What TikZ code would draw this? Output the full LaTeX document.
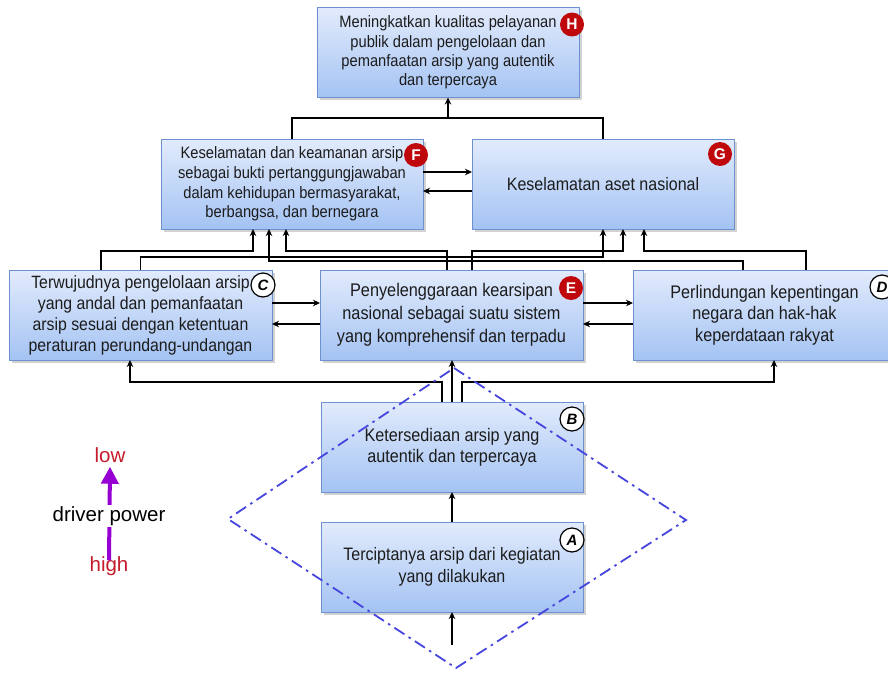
\documentclass[tikz,border=0pt]{standalone}
\usepackage{fontspec}
\setmainfont{Liberation Sans}
\newfontfamily\boxfont[FakeStretch=0.89]{Liberation Sans}
\usetikzlibrary{arrows.meta,shadows}

\definecolor{boxtop}{RGB}{226,235,252}
\definecolor{boxbot}{RGB}{164,195,243}
\definecolor{boxline}{RGB}{108,145,206}
\definecolor{badgered}{RGB}{190,8,12}
\definecolor{diamondblue}{RGB}{70,70,222}
\definecolor{legendred}{RGB}{196,28,42}
\definecolor{legendpurple}{RGB}{150,0,210}
\definecolor{textgray}{RGB}{28,28,28}

\begin{document}
\begin{tikzpicture}[x=1pt,y=-1pt,
  goalbox/.style={draw=boxline, line width=1pt, top color=boxtop, bottom color=boxbot,
    minimum width=262pt, minimum height=90pt, inner sep=0pt, outer sep=0pt,
    align=center, text=textgray,
    drop shadow={shadow xshift=2.5pt, shadow yshift=-2.5pt, opacity=0.35}},
  txt/.style 2 args={font=\boxfont\fontsize{#1}{#2}\selectfont},
  redbadge/.style={circle, fill=badgered, text=white, inner sep=0pt, minimum size=24pt,
    font=\bfseries\fontsize{15.5pt}{15.5pt}\selectfont},
  whitebadge/.style={circle, draw=black, line width=1.2pt, fill=white, inner sep=0pt,
    minimum size=24pt, font=\bfseries\itshape\fontsize{15pt}{15pt}\selectfont},
  link/.style={line width=1.2pt, black},
  arr/.style={link, -{Stealth[length=7pt,width=6.5pt]}},
  diamondline/.style={diamondblue, line width=1.8pt, dash pattern=on 12pt off 5pt on 2.5pt off 5pt},
  legendtxt/.style={font=\fontsize{20.5pt}{21pt}\selectfont, inner sep=1pt}
]
\useasboundingbox (0,0) rectangle (888,672);
\fill[white] (0,0) rectangle (888,672);
\clip (0,0) rectangle (888,672);

% goal hierarchy boxes
\node[goalbox, txt={16.5pt}{19.3pt}] (H) at (448,52.5)
  {Meningkatkan kualitas pelayanan\\publik dalam pengelolaan dan\\pemanfaatan arsip yang autentik\\dan terpercaya};
\node[goalbox, txt={16.5pt}{19.7pt}] (F) at (292,184)
  {Keselamatan dan keamanan arsip\\sebagai bukti pertanggungjawaban\\dalam kehidupan bermasyarakat,\\berbangsa, dan bernegara};
\node[goalbox, txt={18pt}{21pt}] (G) at (603,184) {Keselamatan aset nasional};
\node[goalbox, txt={17.8pt}{21pt}, minimum width=263pt] (C) at (140.5,315)
  {Terwujudnya pengelolaan arsip\\yang andal dan pemanfaatan\\arsip sesuai dengan ketentuan\\peraturan perundang-undangan};
\node[goalbox, txt={18.3pt}{23pt}, minimum width=263pt] (E) at (451.5,315)
  {Penyelenggaraan kearsipan\\nasional sebagai suatu sistem\\yang komprehensif dan terpadu};
\node[goalbox, txt={18.2pt}{21.5pt}, minimum width=263pt] (D) at (764.5,315)
  {Perlindungan kepentingan\\negara dan hak-hak\\keperdataan rakyat};
\node[goalbox, txt={18.2pt}{21pt}] (B) at (452,447)
  {Ketersediaan arsip yang\\autentik dan terpercaya};
\node[goalbox, txt={18pt}{22pt}] (A) at (452,567)
  {Terciptanya arsip dari kegiatan\\yang dilakukan};

% F and G feed H
\draw[link] (F.north) -- ++(0,-21) coordinate (fgjoin) -| (G.north);
\coordinate (hjoin) at (H.south |- fgjoin);
\draw[arr] (hjoin) -- (H.south);

% mutual links within rows
\draw[arr] ([yshift=12pt]F.east) -- ([yshift=12pt]G.west);
\draw[arr] ([yshift=-7pt]G.west) -- ([yshift=-7pt]F.east);
\draw[arr] ([yshift=12pt]C.east) -- ([yshift=12pt]E.west);
\draw[arr] ([yshift=-9pt]E.west) -- ([yshift=-9pt]C.east);
\draw[arr] ([yshift=12pt]E.east) -- ([yshift=12pt]D.west);
\draw[arr] ([yshift=-9pt]D.west) -- ([yshift=-9pt]E.east);

% middle row feeds F and G
\draw[arr] ([xshift=-39.5pt]C.north) -- ++(0,-19) -| ([xshift=-39pt]F.south);
\draw[arr] (C.north) -- ++(0,-13) -| (G.south);
\draw[arr] ([xshift=-4.5pt]E.north) -- ++(0,-19) -| ([xshift=-6pt]F.south);
\draw[arr] ([xshift=20.5pt]E.north) -- ++(0,-19) -| ([xshift=20pt]G.south);
\draw[arr] ([xshift=-21.5pt]D.north) -- ++(0,-9) -| ([xshift=-23pt]F.south);
\draw[arr] ([xshift=41.5pt]D.north) -- ++(0,-19) -| ([xshift=41pt]G.south);

% B feeds the middle row
\draw[arr] ([xshift=-10pt]B.north) -- ++(0,-20) -| ([xshift=-10.5pt]C.south);
\draw[arr] (B.north) -- (B.north |- E.south);
\draw[arr] ([xshift=10pt]B.north) -- ++(0,-20) -| ([xshift=9.5pt]D.south);

% A feeds B, input into A
\draw[arr] (A.north) -- (B.south);
\coordinate (ain) at (452,645);
\draw[arr] (ain) -- (A.south);

% dash-dotted diamond around the base
\draw[diamondline] (454,368) -- (686,520) -- (456,668) -- (228,519) -- cycle;

% badges
\node[redbadge] (bH) at ([xshift=-7pt,yshift=-17pt]H.north east) {H};
\node[redbadge] (bF) at ([xshift=-7pt,yshift=-16pt]F.north east) {F};
\node[redbadge] (bG) at ([xshift=-14pt,yshift=-15pt]G.north east) {G};
\node[redbadge] (bE) at ([xshift=-12pt,yshift=-18pt]E.north east) {E};
\node[whitebadge] (bC) at ([xshift=-9pt,yshift=-15pt]C.north east) {C};
\node[whitebadge] (bD) at ([xshift=-14pt,yshift=-17pt]D.north east) {D};
\node[whitebadge] (bB) at ([xshift=-11pt,yshift=-17pt]B.north east) {B};
\node[whitebadge] (bA) at ([xshift=-11pt,yshift=-18pt]A.north east) {A};

% driver power legend
\node[legendtxt, text=legendred] (low) at (110,455) {low};
\node[legendtxt, text=legendred] (high) at (109,566) {high};
\draw[legendpurple, line width=4pt, -{Triangle[length=17pt,width=17pt]}]
  ([yshift=-5pt]high.north) -- ([yshift=-3pt]low.south);
\node[legendtxt, fill=white] (dp) at (109,516) {driver power};
\end{tikzpicture}
\end{document}
